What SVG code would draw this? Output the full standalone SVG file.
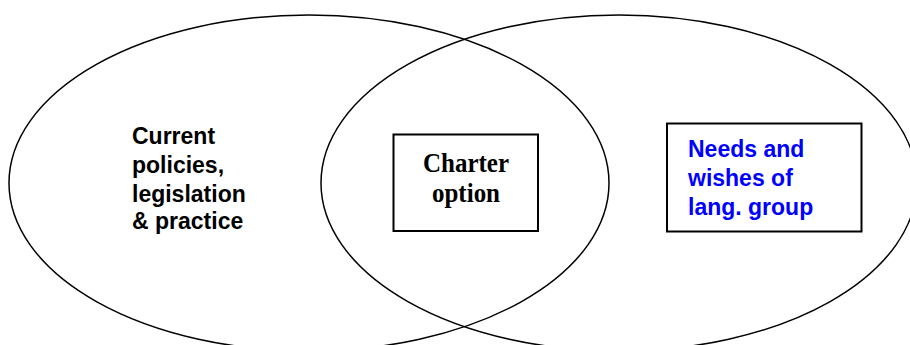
<svg xmlns="http://www.w3.org/2000/svg" width="910" height="345" viewBox="0 0 910 345">
<style>
.ell{fill:none;stroke:#000;stroke-width:1.5}
.box{fill:#fff;stroke:#000;stroke-width:2}
.sans{font-family:"Liberation Sans",Arial,sans-serif;font-weight:bold;font-size:23px}
.serif{font-family:"Liberation Serif","Times New Roman",serif;font-weight:bold;font-size:25px}
</style>
<rect width="910" height="345" fill="#fff"/>
<g id="left-set">
<ellipse class="ell" cx="309" cy="183" rx="300" ry="168"/>
</g>
<g id="right-set">
<ellipse class="ell" cx="619" cy="183" rx="298" ry="168"/>
</g>
<g id="left-label">
<text class="sans" fill="#000"><tspan x="132" y="144">Current</tspan><tspan x="132" y="173">policies,</tspan><tspan x="132" y="201.5">legislation</tspan><tspan x="132" y="229">&amp; practice</tspan></text>
</g>
<g id="charter">
<rect class="box" x="393.5" y="134.5" width="144.5" height="96.5"/>
<text class="serif" fill="#000" text-anchor="middle" transform="translate(466,0) scale(1,1.1)"><tspan x="0" y="156">Charter</tspan><tspan x="0" y="183.5">option</tspan></text>
</g>
<g id="needs">
<rect class="box" x="667" y="123.5" width="194.5" height="108"/>
<text class="sans" fill="#0000FF"><tspan x="688" y="156.5">Needs and</tspan><tspan x="688" y="186">wishes of</tspan><tspan x="688" y="215">lang. group</tspan></text>
</g>
<g id="connectors"/>
</svg>
